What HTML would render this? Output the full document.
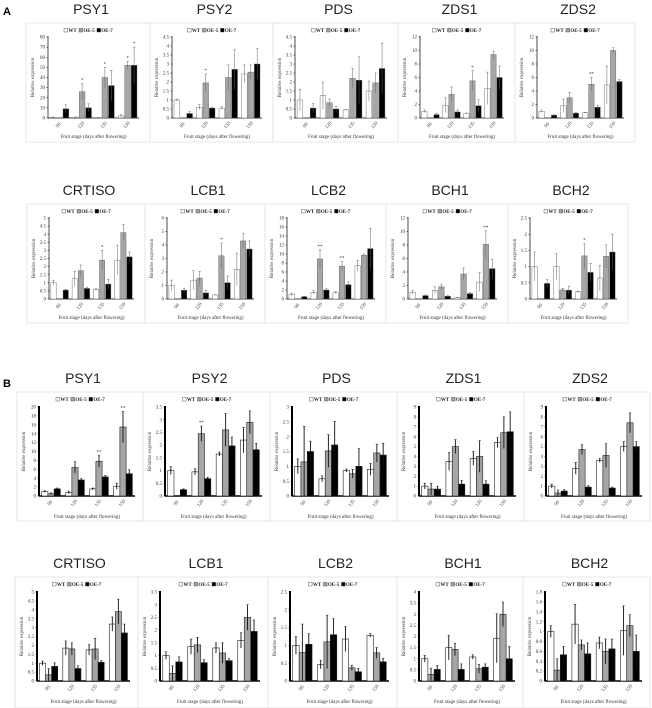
<!DOCTYPE html>
<html><head><meta charset="utf-8">
<style>
html,body{margin:0;padding:0;background:#fff;}
svg{display:block;}
.ttl{font-family:"Liberation Sans",sans-serif;font-size:14px;fill:#222;}
.tk{font-family:"Liberation Serif",serif;font-size:5px;fill:#333;}
.lg{font-family:"Liberation Serif",serif;font-size:5px;font-weight:bold;fill:#222;}
</style></head>
<body>
<svg id="fig" width="652" height="708" viewBox="0 0 652 708" xmlns="http://www.w3.org/2000/svg">
<text x="3" y="15" font-family="Liberation Sans,sans-serif" font-weight="bold" font-size="11">A</text>
<text x="3" y="387" font-family="Liberation Sans,sans-serif" font-weight="bold" font-size="11">B</text>
</svg>
<script>
const categories=["90","120","135","150"];
// Panel A
const aPSY1_wt=[0.5,0.5,0.3,2],aPSY1_oe5=[0,26,40,52],aPSY1_oe7=[9,10,32,52];
const aPSY1_ewt=[0.5,0.5,0.3,1.5],aPSY1_eoe5=[0,8,10,4],aPSY1_eoe7=[4,4,15,18];
const aPSY2_wt=[1,0.6,0.55,2.45],aPSY2_oe5=[0,1.95,2.25,2.55],aPSY2_oe7=[0.25,0.55,2.7,3];
const aPSY2_ewt=[.05,.15,.07,.5],aPSY2_eoe5=[0,.5,.7,.4],aPSY2_eoe7=[.1,.05,1.1,.85];
const aPDS_wt=[1,1.25,0.45,1.5],aPDS_oe5=[0,0.85,2.2,1.95],aPDS_oe7=[0.55,0.5,2.1,2.75];
const aPDS_ewt=[.6,.75,.02,.55],aPDS_eoe5=[0,.2,.55,.55],aPDS_eoe7=[.25,.15,1.3,1.4];
const aZDS1_wt=[1,1.9,0.7,4.4],aZDS1_oe5=[0,3.5,5.5,9.4],aZDS1_oe7=[0.5,0.9,1.8,6];
const aZDS1_ewt=[.2,1.1,.05,2.4],aZDS1_eoe5=[0,1.1,1.5,.5],aZDS1_eoe7=[.2,.3,.9,1.7];
const aZDS2_wt=[1,1.8,0.8,4.9],aZDS2_oe5=[0,3,5,10],aZDS2_oe7=[0.4,0.7,1.6,5.4];
const aZDS2_ewt=[.2,1,.05,2.8],aZDS2_eoe5=[0,.8,1,.4],aZDS2_eoe7=[.1,.1,.3,.3];
const aCRT_wt=[1,1.25,0.6,2.4],aCRT_oe5=[0,1.75,2.4,4.1],aCRT_oe7=[0.55,0.65,0.92,2.6];
const aCRT_ewt=[.15,.45,.07,.9],aCRT_eoe5=[0,.35,.6,.5],aCRT_eoe7=[.05,.08,.3,.3];
const aLCB1_wt=[1,1.4,0.3,2.2],aLCB1_oe5=[0,1.55,3.2,4.3],aLCB1_oe7=[0.65,0.45,1.2,3.7];
const aLCB1_ewt=[.4,.7,.02,1.2],aLCB1_eoe5=[0,.5,.95,.55],aLCB1_eoe7=[.15,.2,.5,.6];
const aLCB2_wt=[1,1.5,1.4,7.4],aLCB2_oe5=[0,8.9,7.3,9.7],aLCB2_oe7=[0.5,2,3.2,11.2];
const aLCB2_ewt=[.3,.4,.2,1.2],aLCB2_eoe5=[0,2,1,0.3],aLCB2_eoe7=[.1,.3,.6,4.5];
const aBCH1_wt=[1,1.3,0.2,2.5],aBCH1_oe5=[0,1.8,3.7,8.1],aBCH1_oe7=[0.5,0.4,0.8,4.5];
const aBCH1_ewt=[.3,.5,.05,1.4],aBCH1_eoe5=[0,.4,.9,2],aBCH1_eoe7=[.1,.1,.2,1.4];
const aBCH2_wt=[1,1,0.22,0.65],aBCH2_oe5=[0,0.28,1.33,1.32],aBCH2_oe7=[0.48,0.27,0.82,1.45];
const aBCH2_ewt=[.45,.4,.02,.38],aBCH2_eoe5=[0,.05,.38,.35],aBCH2_eoe7=[.12,.12,.28,.55];
// Panel B
const bPSY1_wt=[1,0.8,1.6,2.2],bPSY1_oe5=[0.5,6.4,7.8,15.5],bPSY1_oe7=[1.6,3.6,4.3,5];
const bPSY1_ewt=[.2,.3,.2,.7],bPSY1_eoe5=[.2,1.3,1.3,3.5],bPSY1_eoe7=[.2,.3,.3,.9];
const bPSY2_wt=[1,0.95,1.65,2.2],bPSY2_oe5=[0,2.45,2.6,2.9],bPSY2_oe7=[0.25,0.68,1.97,1.82];
const bPSY2_ewt=[.15,.12,.08,.5],bPSY2_eoe5=[0,.3,.65,.45],bPSY2_eoe7=[.03,.06,.35,.25];
const bPDS_wt=[1,0.58,0.86,0.9],bPDS_oe5=[1.15,1.52,0.75,1.45],bPDS_oe7=[1.5,1.72,1,1.38];
const bPDS_ewt=[.25,.1,.05,.2],bPDS_eoe5=[1.2,.55,.15,.3],bPDS_eoe7=[.35,.8,.6,.4];
const bZDS1_wt=[1,3.5,3.8,5.4],bZDS1_oe5=[0.7,5,4,6.4],bZDS1_oe7=[0.7,1.2,1.2,6.5];
const bZDS1_ewt=[.3,.9,.7,.5],bZDS1_eoe5=[.6,.7,1.6,1.6],bZDS1_eoe7=[.3,.4,.35,2];
const bZDS2_wt=[1,2.8,3.6,5],bZDS2_oe5=[0.3,4.7,4.1,7.4],bZDS2_oe7=[0.5,0.9,0.8,5];
const bZDS2_ewt=[.2,.6,.2,.5],bZDS2_eoe5=[.3,.5,1.2,1],bZDS2_eoe7=[.15,.15,.1,.5];
const bCRT_wt=[1,1.85,1.75,3.2],bCRT_oe5=[0.35,1.8,1.8,3.9],bCRT_oe7=[0.82,0.7,1.05,2.7];
const bCRT_ewt=[.12,.4,.3,.4],bCRT_eoe5=[.35,.35,.6,.7],bCRT_eoe7=[.2,.15,.1,.5];
const bLCB1_wt=[1,1.35,1.3,1.6],bLCB1_oe5=[0.3,1.42,1.1,2.5],bLCB1_oe7=[0.75,0.72,0.8,1.95];
const bLCB1_ewt=[.15,.3,.2,.3],bLCB1_eoe5=[.3,.3,.4,.5],bLCB1_eoe7=[.2,.12,.08,.45];
const bLCB2_wt=[1,0.46,1.18,1.28],bLCB2_oe5=[0.8,1.1,0.37,0.79],bLCB2_oe7=[1.03,1.3,0.26,0.54];
const bLCB2_ewt=[.25,.12,.35,.05],bLCB2_eoe5=[.8,.75,.07,.15],bLCB2_eoe7=[.3,.45,.1,.1];
const bBCH1_wt=[1,1.5,1.08,1.92],bBCH1_oe5=[0.3,1.42,0.55,3],bBCH1_oe7=[0.52,0.52,0.62,1];
const bBCH1_ewt=[.15,.55,.1,1.1],bBCH1_eoe5=[.28,.28,.2,.55],bBCH1_eoe7=[.18,.25,.15,.55];
const bBCH2_wt=[1,1.15,0.77,1.02],bBCH2_oe5=[0.22,0.73,0.6,1.12],bBCH2_oe7=[0.53,0.55,0.65,0.6];
const bBCH2_ewt=[.12,.4,.12,.5],bBCH2_eoe5=[.23,.1,.25,.22],bBCH2_eoe7=[.17,.22,.2,.33];

const NS="http://www.w3.org/2000/svg";
const svg=document.getElementById('fig');
function mk(tag,attrs,parent){const e=document.createElementNS(NS,tag);for(const k in attrs)e.setAttribute(k,attrs[k]);(parent||svg).appendChild(e);return e;}

function panel(o){
  const {title,x,y,w,h,max,step,wt,oe5,oe7,ewt,eoe5,eoe7,stars,B}=o;
  const g=mk('g',{});
  
  
  const box=mk('rect',{x:x,y:y,width:w,height:h,fill:'#fff',stroke:'#e2e2e2','stroke-width':0.8},g);
  
  
  const t=mk('text',{x:x+w/2+3,y:y-9,'text-anchor':'middle',class:'ttl'},g);t.textContent=title;
  
  
  const ly=y+9, lx=x+w/2-24;
  const lg=mk('g',{},g);
  
  
  const cols=['#fff','#a6a6a6','#000'],labs=['WT','OE-5','OE-7'],offs=[0,15,33];
  for(let i=0;i<3;i++){
    const s=mk('rect',{x:lx+offs[i],y:ly-3.6,width:3.6,height:3.6,fill:cols[i],stroke:'#333','stroke-width':0.4},lg);
    
    
    const tx=mk('text',{x:lx+offs[i]+4.4,y:ly,class:'lg'},lg);tx.textContent=labs[i];
    
    
  }
  const L=x+22, R=x+w-(B?8:11), T=y+(B?15:14), Z=y+(B?104:95);
  const ys=v=>Z-(v/max)*(Z-T);
  const gw=(R-L)/4;
  const ax=mk('line',{x1:L,y1:T-1,x2:L,y2:Z,stroke:'#000','stroke-width':B?2:0.7},g);
  
  
  const bx=mk('line',{x1:L,y1:Z,x2:R,y2:Z,stroke:'#000','stroke-width':B?1.6:0.7},g);
  
  
  const nT=Math.round(max/step);
  for(let i=0;i<=nT;i++){
    const v=+(i*step).toFixed(2);
    const tl=mk('text',{x:L-3,y:ys(v)+1.6,'text-anchor':'end',class:'tk'},g);tl.textContent=String(v);
    
    
    mk('line',{x1:L-1.5,y1:ys(v),x2:L,y2:ys(v),stroke:'#000','stroke-width':0.5},g);
  }
  const yt=mk('text',{x:x+8,y:(T+Z)/2,'text-anchor':'middle',class:'tk',transform:`rotate(-90 ${x+8} ${(T+Z)/2})`},g);
  yt.textContent='Relative expression';
  
  
  const xt=mk('text',{x:(L+R)/2,y:Z+(B?22:20),'text-anchor':'middle',class:'tk'},g);
  xt.textContent='Fruit stage (days after flowering)';
  
  
  const series=[wt,oe5,oe7],errs=[ewt,eoe5,eoe7],names=['wt','oe5','oe7'];
  const bw=gw*(B?0.26:0.25), gap=B?0:0.8;
  for(let c=0;c<4;c++){
    const cx=L+gw*(c+0.5);
    const cl=mk('text',{x:cx,y:Z+8,'text-anchor':'middle',class:'tk',transform:`rotate(-50 ${cx} ${Z+8})`},g);
    cl.textContent=categories[c];
    
    
    for(let s=0;s<3;s++){
      const v=series[s][c];
      const bxl=cx+(s-1.5)*bw+(s-1)*gap;
      const top=ys(v);
      const r=mk('rect',{x:bxl,y:top,width:bw,height:Math.max(0,Z-top),fill:cols[s],stroke:B?'#222':'#555','stroke-width':B?0.6:0.4},g);
      
      
      const e=errs[s][c];
      if(e>0){
        const mx=bxl+bw/2;
        const el=mk('line',{x1:mx,y1:ys(v+e),x2:mx,y2:ys(Math.max(0,v-e)),stroke:B?'#111':'#666','stroke-width':B?0.9:0.5},g);
        
        
        mk('line',{x1:mx-1.2,y1:ys(v+e),x2:mx+1.2,y2:ys(v+e),stroke:B?'#111':'#666','stroke-width':0.5},g);
      }
    }
  }
  (stars||[]).forEach(st=>{
    const [c,s,txt]=st;
    const cx=L+gw*(c+0.5)+(s-1.5)*bw+(s-1)*gap+bw/2;
    const v=series[s][c]+errs[s][c];
    const tt=mk('text',{x:cx,y:ys(v)-2,'text-anchor':'middle',class:'tk','font-size':7},g);tt.textContent=txt;
    
    
  });
}
function P(id,title,x,y,w,h,max,step,pre,stars,B){
  panel({id,title,x,y,w,h,max,step,B,stars,
    wt:window[pre+'_wt'],oe5:window[pre+'_oe5'],oe7:window[pre+'_oe7'],
    ewt:window[pre+'_ewt'],eoe5:window[pre+'_eoe5'],eoe7:window[pre+'_eoe7']});
}
const D={aPSY1_wt,aPSY1_oe5,aPSY1_oe7,aPSY1_ewt,aPSY1_eoe5,aPSY1_eoe7,aPSY2_wt,aPSY2_oe5,aPSY2_oe7,aPSY2_ewt,aPSY2_eoe5,aPSY2_eoe7,aPDS_wt,aPDS_oe5,aPDS_oe7,aPDS_ewt,aPDS_eoe5,aPDS_eoe7,aZDS1_wt,aZDS1_oe5,aZDS1_oe7,aZDS1_ewt,aZDS1_eoe5,aZDS1_eoe7,aZDS2_wt,aZDS2_oe5,aZDS2_oe7,aZDS2_ewt,aZDS2_eoe5,aZDS2_eoe7,aCRT_wt,aCRT_oe5,aCRT_oe7,aCRT_ewt,aCRT_eoe5,aCRT_eoe7,aLCB1_wt,aLCB1_oe5,aLCB1_oe7,aLCB1_ewt,aLCB1_eoe5,aLCB1_eoe7,aLCB2_wt,aLCB2_oe5,aLCB2_oe7,aLCB2_ewt,aLCB2_eoe5,aLCB2_eoe7,aBCH1_wt,aBCH1_oe5,aBCH1_oe7,aBCH1_ewt,aBCH1_eoe5,aBCH1_eoe7,aBCH2_wt,aBCH2_oe5,aBCH2_oe7,aBCH2_ewt,aBCH2_eoe5,aBCH2_eoe7,bPSY1_wt,bPSY1_oe5,bPSY1_oe7,bPSY1_ewt,bPSY1_eoe5,bPSY1_eoe7,bPSY2_wt,bPSY2_oe5,bPSY2_oe7,bPSY2_ewt,bPSY2_eoe5,bPSY2_eoe7,bPDS_wt,bPDS_oe5,bPDS_oe7,bPDS_ewt,bPDS_eoe5,bPDS_eoe7,bZDS1_wt,bZDS1_oe5,bZDS1_oe7,bZDS1_ewt,bZDS1_eoe5,bZDS1_eoe7,bZDS2_wt,bZDS2_oe5,bZDS2_oe7,bZDS2_ewt,bZDS2_eoe5,bZDS2_eoe7,bCRT_wt,bCRT_oe5,bCRT_oe7,bCRT_ewt,bCRT_eoe5,bCRT_eoe7,bLCB1_wt,bLCB1_oe5,bLCB1_oe7,bLCB1_ewt,bLCB1_eoe5,bLCB1_eoe7,bLCB2_wt,bLCB2_oe5,bLCB2_oe7,bLCB2_ewt,bLCB2_eoe5,bLCB2_eoe7,bBCH1_wt,bBCH1_oe5,bBCH1_oe7,bBCH1_ewt,bBCH1_eoe5,bBCH1_eoe7,bBCH2_wt,bBCH2_oe5,bBCH2_oe7,bBCH2_ewt,bBCH2_eoe5,bBCH2_eoe7};
Object.assign(window,D);

P('a-psy1','PSY1',26,23,124,119,80,10,'aPSY1',[[1,1,'*'],[2,1,'*'],[3,1,'*'],[3,2,'*']],false);
P('a-psy2','PSY2',150,23,123,119,4.5,0.5,'aPSY2',[[1,1,'*']],false);
P('a-pds','PDS',273,23,125,119,4.5,0.5,'aPDS',[],false);
P('a-zds1','ZDS1',398,23,117,119,12,2,'aZDS1',[[2,1,'*']],false);
P('a-zds2','ZDS2',515,23,120,119,12,2,'aZDS2',[[2,1,'**']],false);
P('a-crtiso','CRTISO',27,204,118,119,5,0.5,'aCRT',[[2,1,'*']],false);
P('a-lcb1','LCB1',145,204,120,119,6,1,'aLCB1',[[2,1,'*']],false);
P('a-lcb2','LCB2',265,204,121,119,18,2,'aLCB2',[[1,1,'**'],[2,1,'**']],false);
P('a-bch1','BCH1',386,204,122,119,12,2,'aBCH1',[[3,1,'**']],false);
P('a-bch2','BCH2',508,204,120,119,2.5,0.5,'aBCH2',[[2,1,'*']],false);
P('b-psy1','PSY1',17,392,126,129,20,2,'bPSY1',[[2,1,'**'],[3,1,'**']],true);
P('b-psy2','PSY2',143,392,127,129,3.5,0.5,'bPSY2',[[1,1,'**']],true);
P('b-pds','PDS',270,392,127,129,3,0.5,'bPDS',[],true);
P('b-zds1','ZDS1',397,392,127,129,9,1,'bZDS1',[],true);
P('b-zds2','ZDS2',524,392,126,129,9,1,'bZDS2',[],true);
P('b-crtiso','CRTISO',15,577,123,131,5,0.5,'bCRT',[],true);
P('b-lcb1','LCB1',138,577,130,131,3.5,0.5,'bLCB1',[],true);
P('b-lcb2','LCB2',268,577,129,131,2.5,0.5,'bLCB2',[],true);
P('b-bch1','BCH1',397,577,126,131,4,0.5,'bBCH1',[],true);
P('b-bch2','BCH2',523,577,127,131,1.8,0.2,'bBCH2',[],true);
</script>
</body></html>
